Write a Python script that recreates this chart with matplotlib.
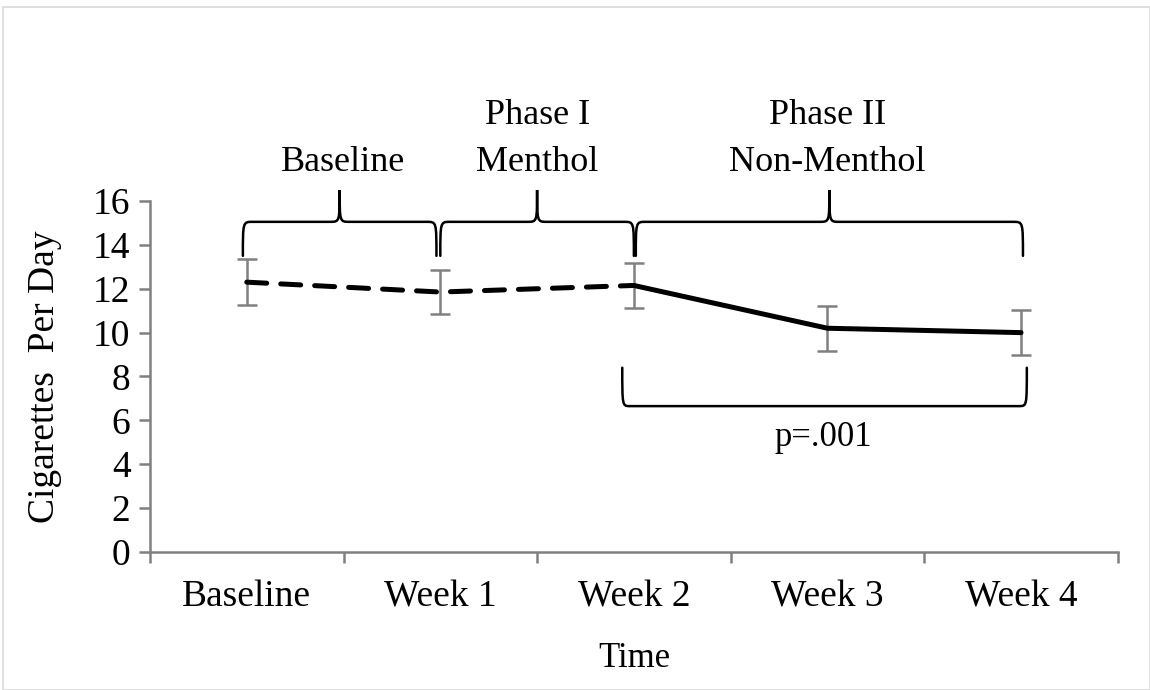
import matplotlib.pyplot as plt
import numpy as np
from matplotlib.path import Path
from matplotlib.patches import PathPatch, Rectangle

plt.rcParams["font.family"] = ["Liberation Serif", "DejaVu Serif"]

categories = ["Baseline", "Week 1", "Week 2", "Week 3", "Week 4"]
cigs_per_day = [12.3, 11.85, 12.15, 10.2, 10.0]
err = [1.05, 1.02, 1.02, 1.02, 1.03]
phase_labels = ["Baseline", "Phase I\nMenthol", "Phase II\nNon-Menthol"]
phase_spans = [(0, 1), (1, 2), (2, 4)]
p_label = "p=.001"

GRAY = "#808080"


def brace(ax, x0, x1, y_end, y_bar, y_tip, r=0.05):
    """Curly brace; tip at y_tip, arms end at y_end."""
    xm = (x0 + x1) / 2
    verts = [
        (x0, y_end),
        (x0, y_bar), (x0, y_bar), (x0 + r, y_bar),
        (xm - r, y_bar),
        (xm, y_bar), (xm, y_bar), (xm, y_tip),
        (xm, y_bar), (xm, y_bar), (xm + r, y_bar),
        (x1 - r, y_bar),
        (x1, y_bar), (x1, y_bar), (x1, y_end),
    ]
    codes = [Path.MOVETO,
             Path.CURVE4, Path.CURVE4, Path.CURVE4,
             Path.LINETO,
             Path.CURVE4, Path.CURVE4, Path.CURVE4,
             Path.CURVE4, Path.CURVE4, Path.CURVE4,
             Path.LINETO,
             Path.CURVE4, Path.CURVE4, Path.CURVE4]
    ax.add_patch(PathPatch(Path(verts, codes), fill=False, lw=1.8,
                           ec="black", clip_on=False, capstyle="round"))


fig = plt.figure(figsize=(11.5, 6.9), dpi=100)
fig.patches.append(Rectangle((0.003, 0.0), 0.997, 0.99, transform=fig.transFigure,
                             fill=False, ec="#d9d9d9", lw=1.2))
ax = fig.add_axes([0.1304, 0.2, 0.8416, 0.5087])

x = np.arange(len(categories))
y = np.array(cigs_per_day)
ax.errorbar(x, y, yerr=err, fmt="none", ecolor=GRAY, elinewidth=1.8,
            capsize=7, capthick=1.8, zorder=2)
ax.plot(x[:3], y[:3], color="black", lw=3.6, ls=(0, (4.0, 2.8)),
        solid_capstyle="round", dash_capstyle="round", zorder=3)
ax.plot(x[2:], y[2:], color="black", lw=3.6, solid_capstyle="round", zorder=3)

ax.set_xlim(-0.5, len(categories) - 0.5)
ax.set_ylim(0, 16)
ax.set_yticks(range(0, 17, 2))
ax.set_xticks(x)
ax.set_xticklabels(categories, fontsize=27)
ax.set_xticks(np.arange(-0.5, len(categories), 1), minor=True)
ax.tick_params(axis="x", which="major", length=0, pad=20)
ax.tick_params(axis="x", which="minor", length=8, width=1.8, color=GRAY, direction="out")
ax.tick_params(axis="y", length=8, width=1.8, color=GRAY, labelsize=27, pad=6)

for side in ["top", "right"]:
    ax.spines[side].set_visible(False)
for side in ["left", "bottom"]:
    ax.spines[side].set_color(GRAY)
    ax.spines[side].set_linewidth(1.8)

ax.set_xlabel("Time", fontsize=25, labelpad=20)
ax.set_ylabel("Cigarettes  Per Day", fontsize=27, labelpad=22)

# phase braces above the data
offsets = [(-0.02, -0.02), (0.0, 0.0), (0.01, 0.01)]
for (a, b), (da, db), lab in zip(phase_spans, offsets, phase_labels):
    brace(ax, a + da, b + db, 13.5, 15.05, 16.5)
    ax.text((a + b) / 2, 17.0, lab, ha="center", va="bottom", fontsize=26,
            linespacing=1.55)

# significance brace below phase II
brace(ax, 1.94, 4.03, 8.4, 6.65, 6.65, r=0.04)
ax.text(2.98, 5.2, p_label, ha="center", va="center", fontsize=25)

fig.savefig("out.png", dpi=100)
